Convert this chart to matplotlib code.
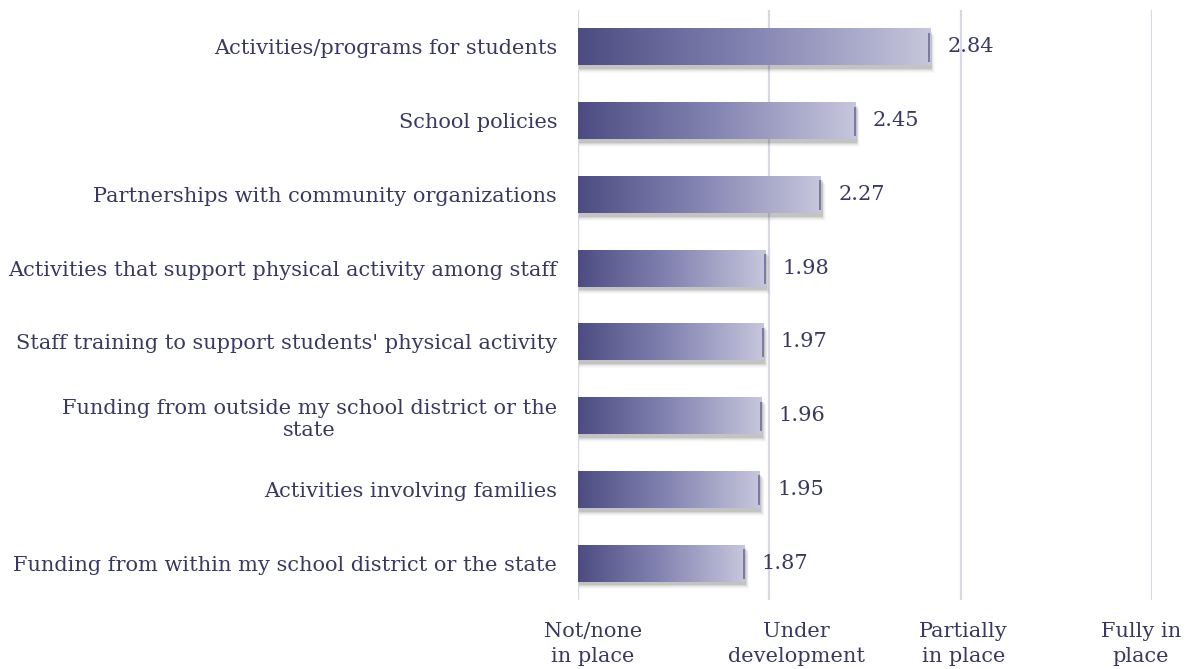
import matplotlib
matplotlib.use("Agg")
import matplotlib.pyplot as plt
import matplotlib.transforms as mtransforms
import numpy as np
from matplotlib.patches import Rectangle
from matplotlib.colors import LinearSegmentedColormap

categories = [
    "Activities/programs for students",
    "School policies",
    "Partnerships with community organizations",
    "Activities that support physical activity among staff",
    "Staff training to support students' physical activity",
    "Funding from outside my school district or the\nstate",
    "Activities involving families",
    "Funding from within my school district or the state",
]
values = [2.84, 2.45, 2.27, 1.98, 1.97, 1.96, 1.95, 1.87]
tick_values = [1, 2, 3, 4]
tick_labels = ["Not/none\nin place", "Under\ndevelopment", "Partially\nin place", "Fully in\nplace"]

TEXT = "#383862"
plt.rcParams['font.family'] = ['DejaVu Serif']

fig = plt.figure(figsize=(11.94, 6.69), dpi=100)
ax = fig.add_axes([578/1194, 69/669, (1152-578)/1194, 590/669])

for x in tick_values:
    ax.axvline(x, color="#d8d8e2", lw=1.6, zorder=0)

cmap = LinearSegmentedColormap.from_list("g", ["#4c4c82", "#8585b3", "#c6c6dc"])
grad = np.linspace(0, 1, 256).reshape(1, -1)
h = 0.5
for i, v in enumerate(values):
    # soft drop shadow
    for k, a in enumerate([0.12, 0.09, 0.06, 0.04, 0.025]):
        ax.add_patch(Rectangle((1 + 0.006, i - h/2 + 0.05 + k*0.014), v - 1 + 0.002 + k*0.004, h,
                               facecolor="#3a3a3a", alpha=a, lw=0, zorder=1))
    rect = Rectangle((1, i - h/2), v - 1, h, facecolor="none", lw=0, zorder=2)
    ax.add_patch(rect)
    im = ax.imshow(grad, cmap=cmap, aspect="auto", extent=(1, v, i + h/2, i - h/2),
                   zorder=2, interpolation="bilinear")
    im.set_clip_path(rect)
    ax.plot([v - 0.004, v - 0.004], [i - h/2 + 0.06, i + h/2 - 0.04], color="#5a5a8c", lw=1.1,
            zorder=3, solid_capstyle="butt", alpha=0.9)
    ax.text(v + 0.09, i, f"{v:.2f}", va="center", ha="left", fontsize=15, color=TEXT)

ax.set_xlim(1, 4)
ax.set_ylim(len(categories) - 0.5, -0.5)

ax.set_yticks(range(len(categories)))
ax.set_yticklabels(categories, fontsize=15, color=TEXT, multialignment="center")
ax.tick_params(axis="y", length=0, pad=15)
ax.set_xticks(tick_values)
ax.set_xticklabels(tick_labels, fontsize=15, color=TEXT, linespacing=1.4)
ax.tick_params(axis="x", length=0, pad=16)
x_offsets_px = [15, 27, 3, -11]
for lab, dx in zip(ax.get_xticklabels(), x_offsets_px):
    lab.set_transform(lab.get_transform() + mtransforms.ScaledTranslation(dx/100, 0, fig.dpi_scale_trans))
for s in ax.spines.values():
    s.set_visible(False)

fig.savefig("out.png", dpi=100, facecolor="white")
